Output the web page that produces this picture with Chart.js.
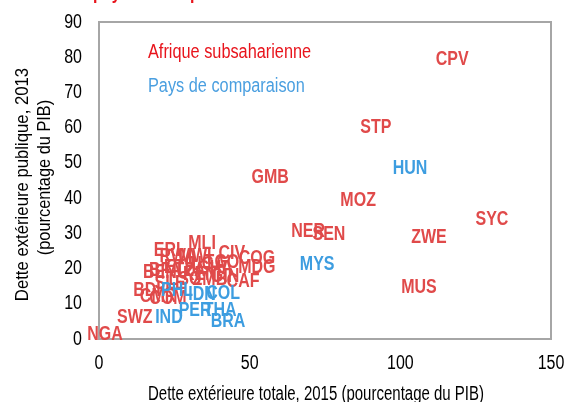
<!DOCTYPE html>
<html>
<head>
<meta charset="utf-8">
<script src="https://cdn.jsdelivr.net/npm/chart.js@4/dist/chart.umd.min.js"></script>
<style>
  html, body { margin: 0; padding: 0; background: #ffffff; }
  #wrap { width: 567px; height: 402px; position: relative; }
</style>
</head>
<body>
<div id="wrap"><canvas id="c" width="567" height="402"></canvas></div>
<script>
// ---- Data ----
const ssaCodes = ['CPV','STP','GMB','MOZ','SYC','NER','SEN','ZWE','MUS','NGA','SWZ','BDI','CMR','CAF','MDG','COG','CIV','MLI','ERI','RWA','MWI','BEN','BFA','ETH','GHA','KEN','TZA','UGA','TGO','LSO','ZMB','GIN','SLE','COM'];
const ssaX =     [117.2, 91.9, 56.8, 86.0, 130.4, 69.4, 76.3, 109.5, 106.2, 2.0, 11.9, 15.9, 19.6, 47.8, 52.4, 52.4, 44.1, 34.2, 22.6, 26.2, 31.9, 20.2, 21.9, 26.9, 38.5, 33.5, 30.2, 36.2, 40.8, 28.5, 36.8, 41.8, 23.6, 22.9];
const ssaY =     [79.3, 60.0, 45.9, 39.4, 34.0, 30.6, 29.7, 28.9, 14.7, 1.4, 6.2, 13.9, 12.2, 16.4, 20.4, 22.9, 24.4, 27.2, 25.2, 23.5, 23.5, 19.0, 19.5, 20.4, 20.1, 18.4, 19.5, 21.2, 21.8, 17.0, 17.0, 17.8, 15.9, 11.6];

const cmpCodes = ['HUN','MYS','COL','IDN','PHL','PER','THA','IND','BRA'];
const cmpX =     [103.2, 72.4, 41.2, 34.2, 25.9, 31.9, 40.2, 23.2, 42.8];
const cmpY =     [48.4, 21.2, 13.0, 12.5, 13.9, 8.2, 8.2, 6.2, 5.1];

const seriesNames = ['Afrique subsaharienne', 'Pays de comparaison'];
const xTitle = 'Dette extérieure totale, 2015 (pourcentage du PIB)';
const yTitle = ['Dette extérieure publique, 2013', '(pourcentage du PIB)'];
const chartTitle = 'Afrique subsaharienne et pays de comparaison : dette extérieure';

// ---- Styles ----
const FONT = "'Liberation Sans', Arial, sans-serif";
const RED = '#e04a4a';
const BLUE = '#3d9de0';
const LEG_RED = '#e8141c';
const LEG_BLUE = '#4a9fe0';

function pts(xs, ys) { return xs.map((x, i) => ({ x: x, y: ys[i] })); }

// draw horizontally condensed text (narrow face look)
function narrowText(ctx, text, x, y, sx, align, baseline, rot) {
  ctx.save();
  ctx.translate(x, y);
  if (rot) ctx.rotate(rot);
  ctx.scale(sx, 1);
  ctx.textAlign = align;
  ctx.textBaseline = baseline;
  ctx.fillText(text, 0, 0);
  ctx.restore();
}

const labelPlugin = {
  id: 'labelPlugin',
  afterDatasetsDraw(chart) {
    const ctx = chart.ctx;
    ctx.save();
    ctx.font = 'bold 20px ' + FONT;
    chart.data.datasets.forEach((ds, di) => {
      const meta = chart.getDatasetMeta(di);
      ctx.fillStyle = ds.labelColor;
      meta.data.forEach((el, i) => {
        narrowText(ctx, ds.codes[i], el.x, el.y, 0.8, 'center', 'middle');
      });
    });
    ctx.restore();
  }
};

const framePlugin = {
  id: 'framePlugin',
  beforeDatasetsDraw(chart) {
    const a = chart.chartArea;
    const ctx = chart.ctx;
    ctx.save();
    ctx.strokeStyle = '#a6a6a6';
    ctx.lineWidth = 2;
    ctx.strokeRect(a.left, a.top, a.right - a.left, a.bottom - a.top);
    ctx.restore();
  },
  afterDraw(chart) {
    const ctx = chart.ctx;
    const a = chart.chartArea;
    const xs = chart.scales.x, ys = chart.scales.y;
    ctx.save();
    ctx.fillStyle = '#000';
    ctx.font = '20px ' + FONT;
    // tick labels from the library's scales
    ys.ticks.forEach(t => {
      narrowText(ctx, String(t.label), a.left - 17, ys.getPixelForValue(t.value), 0.8, 'right', 'middle');
    });
    xs.ticks.forEach(t => {
      narrowText(ctx, String(t.label), xs.getPixelForValue(t.value), 363, 0.8, 'center', 'middle');
    });
    // axis titles
    narrowText(ctx, xTitle, (a.left + a.right) / 2 - 9, 400, 0.75, 'center', 'alphabetic');
    ctx.font = '19px ' + FONT;
    const cy = (a.top + a.bottom) / 2;
    narrowText(ctx, yTitle[0], 28, cy + 4, 0.88, 'center', 'alphabetic', -Math.PI / 2);
    narrowText(ctx, yTitle[1], 50, cy - 3, 0.86, 'center', 'alphabetic', -Math.PI / 2);
    // legend text
    ctx.font = '20px ' + FONT;
    ctx.fillStyle = LEG_RED;
    narrowText(ctx, seriesNames[0], a.left + 49, 58, 0.815, 'left', 'alphabetic');
    ctx.fillStyle = LEG_BLUE;
    narrowText(ctx, seriesNames[1], a.left + 49, 92, 0.815, 'left', 'alphabetic');
    // cropped chart title (only its lower edge is visible)
    ctx.font = 'bold 20px ' + FONT;
    ctx.fillStyle = LEG_RED;
    narrowText(ctx, chartTitle, 390, -1, 0.8, 'right', 'alphabetic');
    ctx.restore();
  }
};

new Chart(document.getElementById('c'), {
  type: 'scatter',
  data: {
    datasets: [
      { label: seriesNames[0], data: pts(ssaX, ssaY), codes: ssaCodes, labelColor: RED, pointRadius: 0, pointHoverRadius: 0 },
      { label: seriesNames[1], data: pts(cmpX, cmpY), codes: cmpCodes, labelColor: BLUE, pointRadius: 0, pointHoverRadius: 0 }
    ]
  },
  options: {
    responsive: false,
    animation: false,
    events: [],
    layout: { padding: { left: 0, right: 16, top: 22, bottom: 0 } },
    plugins: { legend: { display: false }, tooltip: { enabled: false }, title: { display: false } },
    scales: {
      x: {
        type: 'linear', min: 0, max: 150,
        ticks: { stepSize: 50, display: false },
        grid: { display: false, drawTicks: false },
        border: { display: false },
        title: { display: false },
        afterFit(scale) { scale.height = 63; }
      },
      y: {
        type: 'linear', min: 0, max: 90,
        ticks: { stepSize: 10, display: false },
        grid: { display: false, drawTicks: false },
        border: { display: false },
        title: { display: false },
        afterFit(scale) { scale.width = 99; }
      }
    }
  },
  plugins: [labelPlugin, framePlugin]
});
</script>
</body>
</html>
